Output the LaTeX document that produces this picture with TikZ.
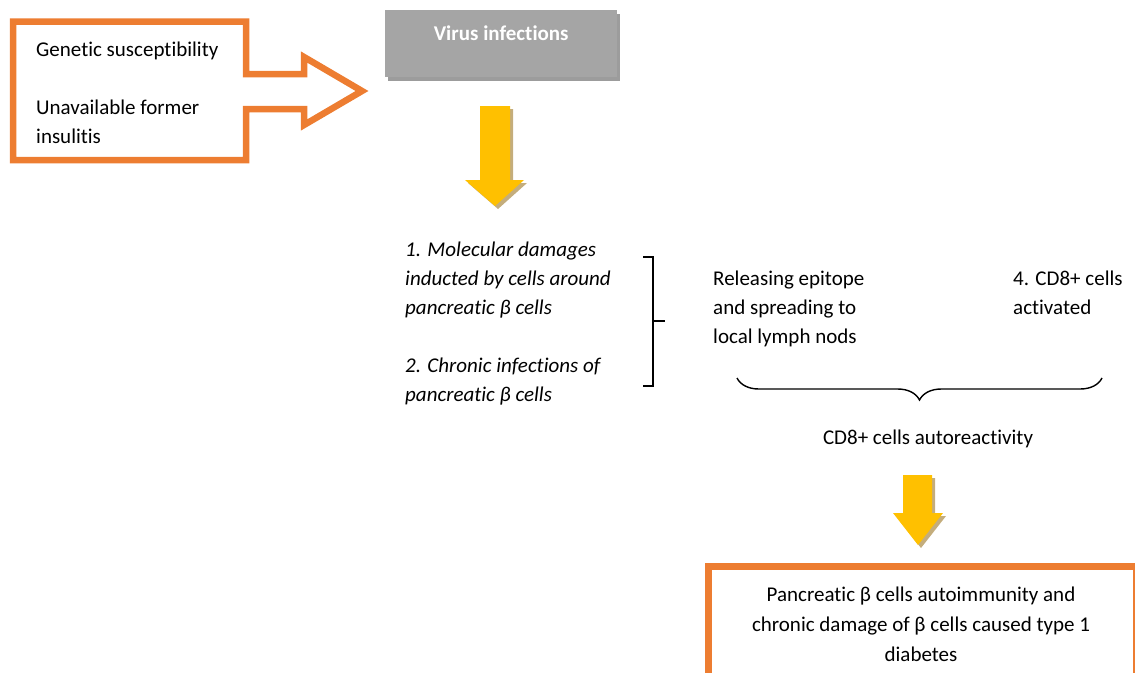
\documentclass[tikz,border=0pt]{standalone}
\usepackage{fontspec}
\setmainfont{Carlito}[Ligatures=NoCommon]
\usetikzlibrary{decorations.pathreplacing, shadows}

\definecolor{calloutorange}{HTML}{ED7D31}
\definecolor{boxgrey}{HTML}{A5A5A5}
\definecolor{shadowgrey}{HTML}{9C9C9C}
\definecolor{arrowyellow}{HTML}{FFC000}
\definecolor{arrowshadow}{HTML}{C4AD7C}

\tikzset{
	txt/.style={inner sep=0pt, align=left, font=\fontsize{21}{29}\selectfont},
	itxt/.style={txt, font=\itshape\fontsize{21}{29}\selectfont},
	orangeline/.style={draw=calloutorange, line width=6.5pt, line join=miter},
	blockarrow/.style={fill=arrowyellow},
	blockshadow/.style={fill=arrowshadow}
}

\begin{document}
\begin{tikzpicture}[x=1pt, y=-1pt]
	\useasboundingbox (0,0) rectangle (1135,672);
	
	% Draws the orange callout with its arrow to the right
	\draw[orangeline] (13,21.5) -- (246,21.5) -- (246,74) -- (304,74) -- (304,57) -- (362,91) -- (304,125) -- (304,109) -- (246,109) -- (246,160) -- (13,160) -- cycle;
	\node[txt, anchor=base west] (genetic) at (36,143) {Genetic susceptibility\\[29pt]Unavailable former\\insulitis};
	
	% Draws the grey box with its shadow
	\node[fill=boxgrey, drop shadow={shadow xshift=3pt, shadow yshift=-4pt, fill=shadowgrey, opacity=1}, minimum width=232pt, inner sep=0pt, text height=30pt, text depth=37pt, text=white, font=\bfseries\fontsize{21}{29}\selectfont, anchor=north west] (virus) at (385,10) {Virus infections};
	
	% Draws the first yellow arrow (shadow first)
	\fill[blockshadow, shift={(3,3)}] (480,106) -- (510,106) -- (510,180) -- (524,180) -- (495,206) -- (465,180) -- (480,180) -- cycle;
	\fill[blockarrow] (480,106) -- (510,106) -- (510,180) -- (524,180) -- (495,206) -- (465,180) -- (480,180) -- cycle;
	
	% Causes in italics
	\node[itxt, anchor=base west] (damage) at (405,401) {1. Molecular damages\\inducted by cells around\\pancreatic β cells\\[29pt]2. Chronic infections of\\pancreatic β cells};
	
	% Draws the square bracket
	\draw[line width=1.5pt] (643,257) -- (653,257) -- (653,386) -- (643,386);
	\draw[line width=1.5pt] (653,321) -- (665,321);
	
	% Texts right of the bracket
	\node[txt, anchor=base west] (epitope) at (713,343) {Releasing epitope\\and spreading to\\local lymph nods};
	\node[txt, anchor=base west] (activated) at (1013,314) {4. CD8+ cells\\activated};
	
	% Draws the curly brace under both texts
	\draw[line width=1.4pt, decorate, decoration={brace, amplitude=22pt}] (1102,378) -- (737,378);
	\node[txt, anchor=base] (autoreact) at (928,444) {CD8+ cells autoreactivity};
	
	% Draws the second yellow arrow (shadow first)
	\fill[blockshadow, shift={(3,3)}] (903,475) -- (932,475) -- (932,513) -- (943,513) -- (918,545) -- (893,513) -- (903,513) -- cycle;
	\fill[blockarrow] (903,475) -- (932,475) -- (932,513) -- (943,513) -- (918,545) -- (893,513) -- (903,513) -- cycle;
	
	% Draws the orange result box
	\draw[orangeline, line width=7pt] (708,566) rectangle (1136.5,690);
	\node[txt, align=center, anchor=base, font=\fontsize{21}{30}\selectfont] (diabetes) at (921,661) {Pancreatic β cells autoimmunity and\\chronic damage of β cells caused type 1\\diabetes};
	
\end{tikzpicture}
\end{document}
